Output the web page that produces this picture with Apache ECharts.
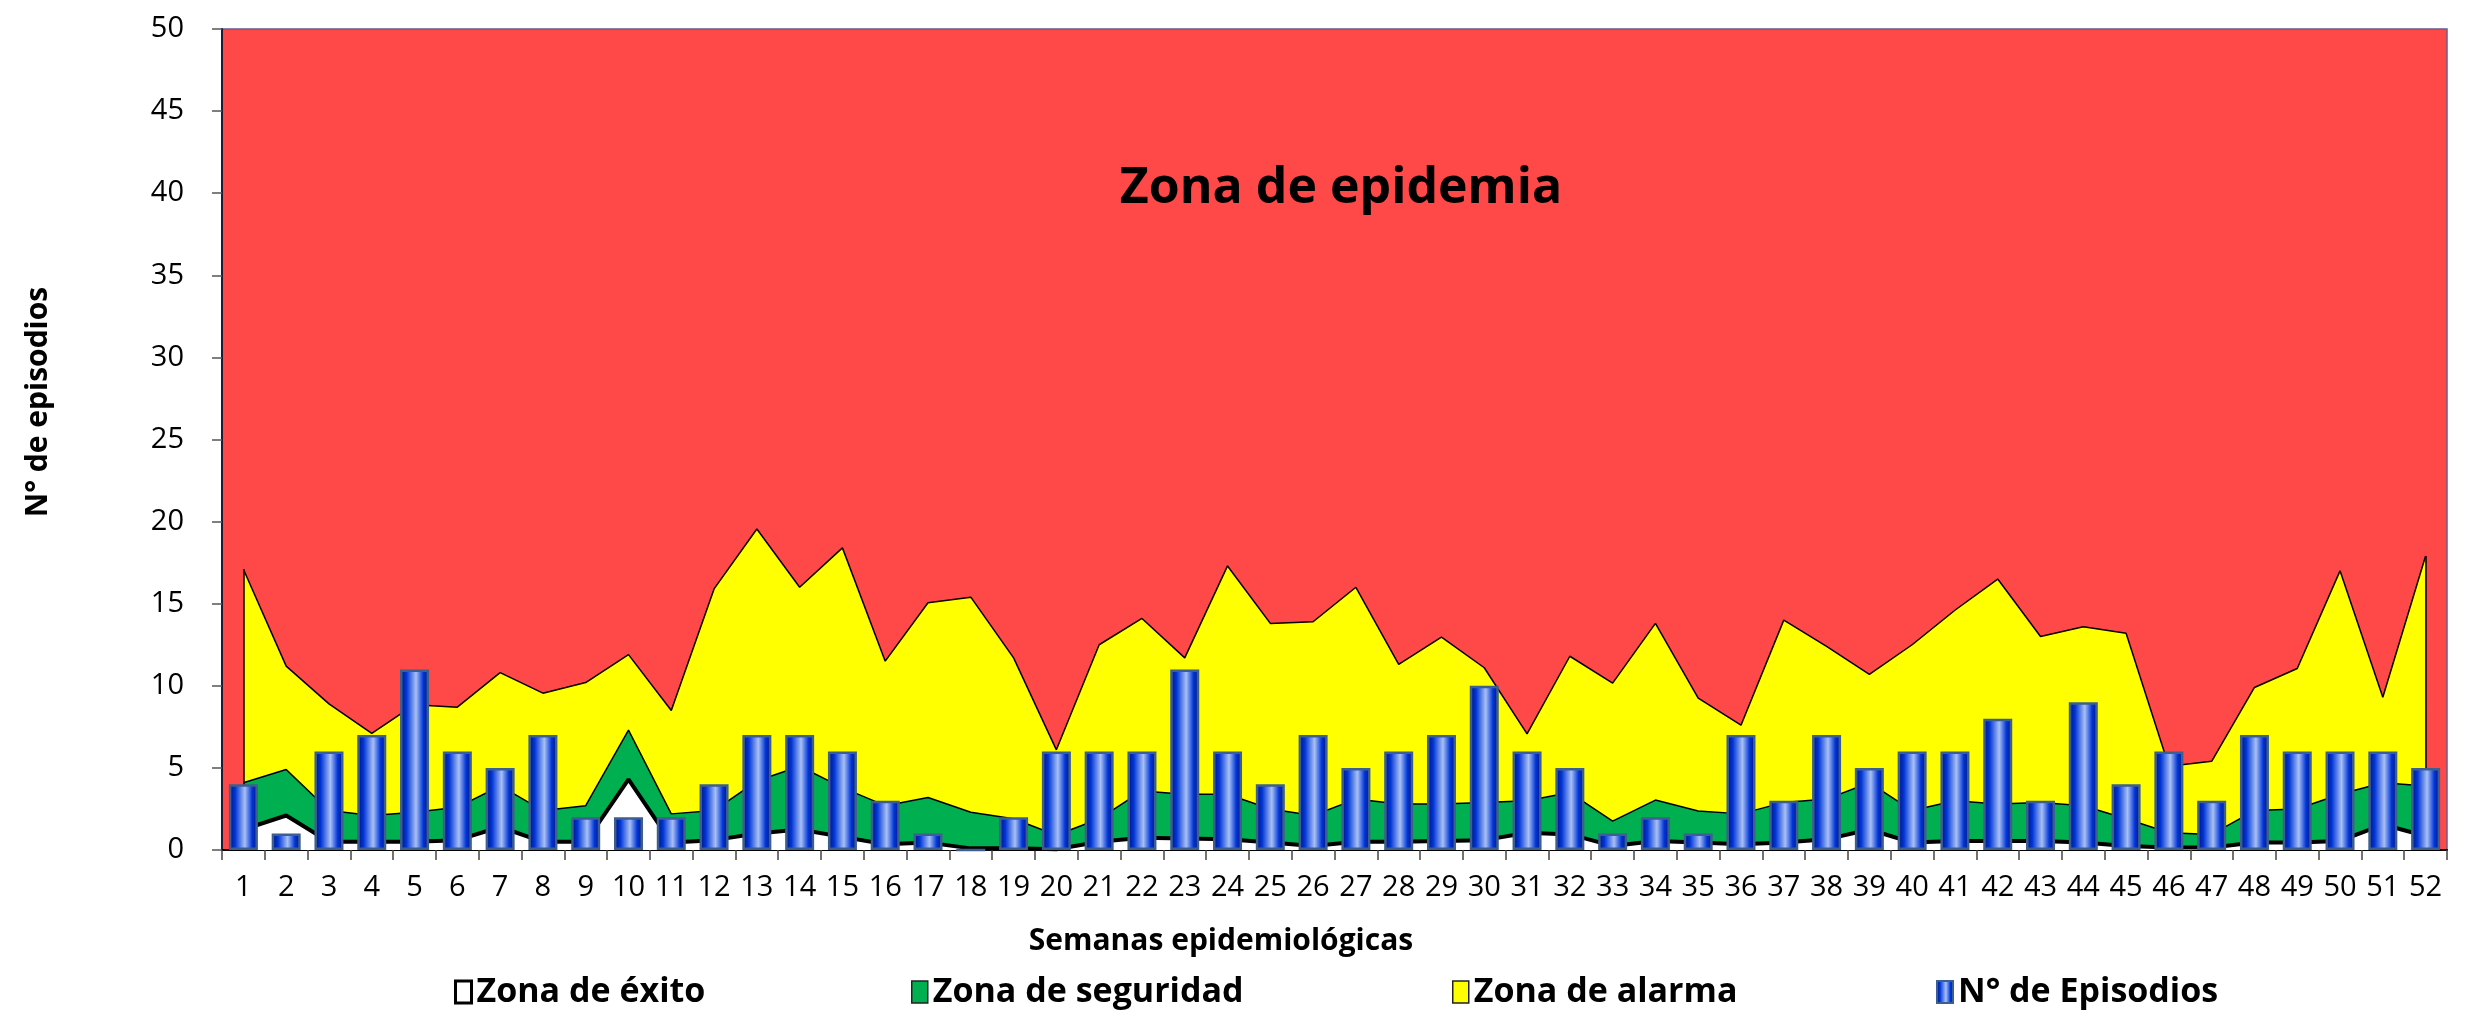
<!DOCTYPE html>
<html>
<head>
<meta charset="utf-8">
<script src="https://cdn.jsdelivr.net/npm/echarts@6/dist/echarts.min.js"></script>
<style>
  html, body { margin: 0; padding: 0; background: #fff; }
  #chart { width: 2471px; height: 1021px; }
</style>
</head>
<body>
<div id="chart"></div>
<script>
// semanas epidemiológicas
const semanas = Array.from({ length: 52 }, (_, i) => String(i + 1))

// N° de episodios por semana
const episodios = [4, 1, 6, 7, 11, 6, 5, 7, 2, 2, 2, 4, 7, 7, 6, 3, 1, 0, 2, 6,
  6, 6, 11, 6, 4, 7, 5, 6, 7, 10, 6, 5, 1, 2, 1, 7, 3, 7, 5, 6,
  6, 8, 3, 9, 4, 6, 3, 7, 6, 6, 6, 5]

// limite superior zona de alarma
const alarma = [17.1, 11.2, 8.9, 7.1, 8.85, 8.7, 10.8, 9.55, 10.2, 11.9,
  8.5, 15.9, 19.55, 16.0, 18.4, 11.5, 15.06, 15.4, 11.7, 6.1,
  12.5, 14.1, 11.7, 17.3, 13.8, 13.9, 16.0, 11.3, 12.96, 11.1,
  7.07, 11.8, 10.16, 13.8, 9.25, 7.6, 14.0, 12.4, 10.7, 12.5,
  14.6, 16.5, 13.0, 13.6, 13.2, 5.1, 5.4, 9.9, 11.05, 17.0, 9.3, 17.9]

// limite superior zona de seguridad
const seguridad = [4.1, 4.9, 2.4, 2.1, 2.3, 2.6, 3.9, 2.4, 2.7, 7.3,
  2.2, 2.4, 4.2, 5.1, 3.8, 2.7, 3.2, 2.3, 1.9, 0.9,
  1.9, 3.6, 3.4, 3.4, 2.5, 2.1, 3.1, 2.8, 2.8, 2.9,
  3.0, 3.5, 1.76, 3.04, 2.37, 2.2, 2.9, 3.1, 4.1, 2.4,
  3.0, 2.8, 2.9, 2.7, 1.9, 1.05, 0.95, 2.4, 2.5, 3.4, 4.1, 3.9]

// limite superior zona de éxito
const exito = [1.25, 2.1, 0.5, 0.5, 0.5, 0.6, 1.4, 0.5, 0.5, 4.3,
  0.45, 0.6, 1.0, 1.25, 0.8, 0.35, 0.45, 0.1, 0.1, 0.05,
  0.5, 0.75, 0.7, 0.65, 0.45, 0.25, 0.5, 0.5, 0.55, 0.6,
  1.05, 0.95, 0.25, 0.55, 0.45, 0.35, 0.45, 0.65, 1.25, 0.45,
  0.55, 0.55, 0.55, 0.45, 0.25, 0.15, 0.15, 0.45, 0.45, 0.55, 1.55, 0.85]

const FONT = '"Open Sans", "Noto Sans", sans-serif'

const barGradient = new echarts.graphic.LinearGradient(0, 0, 1, 0, [
  { offset: 0, color: '#001070' },
  { offset: 0.22, color: '#0036d8' },
  { offset: 0.55, color: '#a8c0f4' },
  { offset: 0.8, color: '#0036d8' },
  { offset: 1, color: '#001070' }
])

const legendText = { fontFamily: FONT, fontSize: 34, fontWeight: 'bold', color: '#000' }

const makeLegend = (left, name, itemStyle) => ({
  left: left,
  top: 970,
  itemWidth: 16,
  itemHeight: 22,
  textStyle: legendText,
  selectedMode: false,
  data: [{ name: name, icon: 'rect', itemStyle: itemStyle }]
})

const chart = echarts.init(document.getElementById('chart'))
chart.setOption({
  animation: false,
  backgroundColor: '#fff',
  grid: {
    left: 222,
    right: 24,
    top: 29,
    bottom: 171,
    show: true,
    backgroundColor: '#FF4848',
    borderColor: '#6b5b8b',
    borderWidth: 1.5
  },
  legend: [
    makeLegend(449, 'Zona de éxito', { color: '#fff', borderColor: '#000', borderWidth: 3 }),
    makeLegend(906, 'Zona de seguridad', { color: '#00B050', borderColor: '#222', borderWidth: 1.5 }),
    makeLegend(1447, 'Zona de alarma', { color: '#FFFF00', borderColor: '#222', borderWidth: 1.5 }),
    makeLegend(1931, 'N° de Episodios', { color: barGradient, borderColor: '#3d5f8f', borderWidth: 2 })
  ],
  graphic: [
    {
      type: 'text',
      x: 1341,
      y: 189,
      style: {
        text: 'Zona de epidemia',
        font: 'bold 50px ' + FONT,
        fill: '#000',
        align: 'center',
        verticalAlign: 'middle'
      },
      z: 100
    },
    {
      type: 'text',
      x: 1221,
      y: 941,
      style: {
        text: 'Semanas epidemiológicas',
        font: 'bold 30px ' + FONT,
        fill: '#000',
        align: 'center',
        verticalAlign: 'middle'
      }
    },
    {
      type: 'text',
      x: 38,
      y: 402,
      rotation: Math.PI / 2,
      style: {
        text: 'N° de episodios',
        font: 'bold 30px ' + FONT,
        fill: '#000',
        align: 'center',
        verticalAlign: 'middle'
      }
    }
  ],
  xAxis: {
    type: 'category',
    data: semanas,
    boundaryGap: true,
    axisLine: { show: true, lineStyle: { color: '#000', width: 2 } },
    axisTick: { show: true, length: 10, lineStyle: { color: '#444', width: 1.5 } },
    axisLabel: { fontFamily: FONT, fontSize: 29, color: '#000', margin: 23, interval: 0 },
    splitLine: { show: false }
  },
  yAxis: {
    type: 'value',
    min: 0,
    max: 50,
    interval: 5,
    axisLine: { show: true, lineStyle: { color: '#1b1b3a', width: 2 } },
    axisTick: { show: true, length: 10, lineStyle: { color: '#555', width: 1.5 } },
    axisLabel: { fontFamily: FONT, fontSize: 29, color: '#000', margin: 38 },
    splitLine: { show: false }
  },
  series: [
    {
      name: 'Zona de alarma',
      type: 'line',
      data: alarma,
      symbol: 'none',
      z: 2,
      lineStyle: { color: '#000', width: 1.5 },
      itemStyle: { color: '#FFFF00' },
      areaStyle: { color: '#FFFF00', opacity: 1 },
      markLine: {
        silent: true,
        symbol: 'none',
        label: { show: false },
        lineStyle: { color: '#000', width: 1.5, type: 'solid' },
        data: [
          [{ coord: [semanas[0], 0] }, { coord: [semanas[0], alarma[0]] }],
          [{ coord: [semanas[51], 0] }, { coord: [semanas[51], alarma[51]] }]
        ]
      }
    },
    {
      name: 'Zona de seguridad',
      type: 'line',
      data: seguridad,
      symbol: 'none',
      z: 3,
      lineStyle: { color: '#000', width: 1.5 },
      itemStyle: { color: '#00B050' },
      areaStyle: { color: '#00B050', opacity: 1 }
    },
    {
      name: 'Zona de éxito',
      type: 'line',
      data: exito,
      symbol: 'none',
      z: 4,
      lineStyle: { color: '#000', width: 4 },
      itemStyle: { color: '#fff' },
      areaStyle: { color: '#fff', opacity: 1 }
    },
    {
      name: 'N° de Episodios',
      type: 'bar',
      data: episodios,
      barWidth: 29,
      z: 5,
      itemStyle: { color: barGradient, borderColor: '#3d5f8f', borderWidth: 2.5 }
    }
  ]
})
</script>
</body>
</html>
